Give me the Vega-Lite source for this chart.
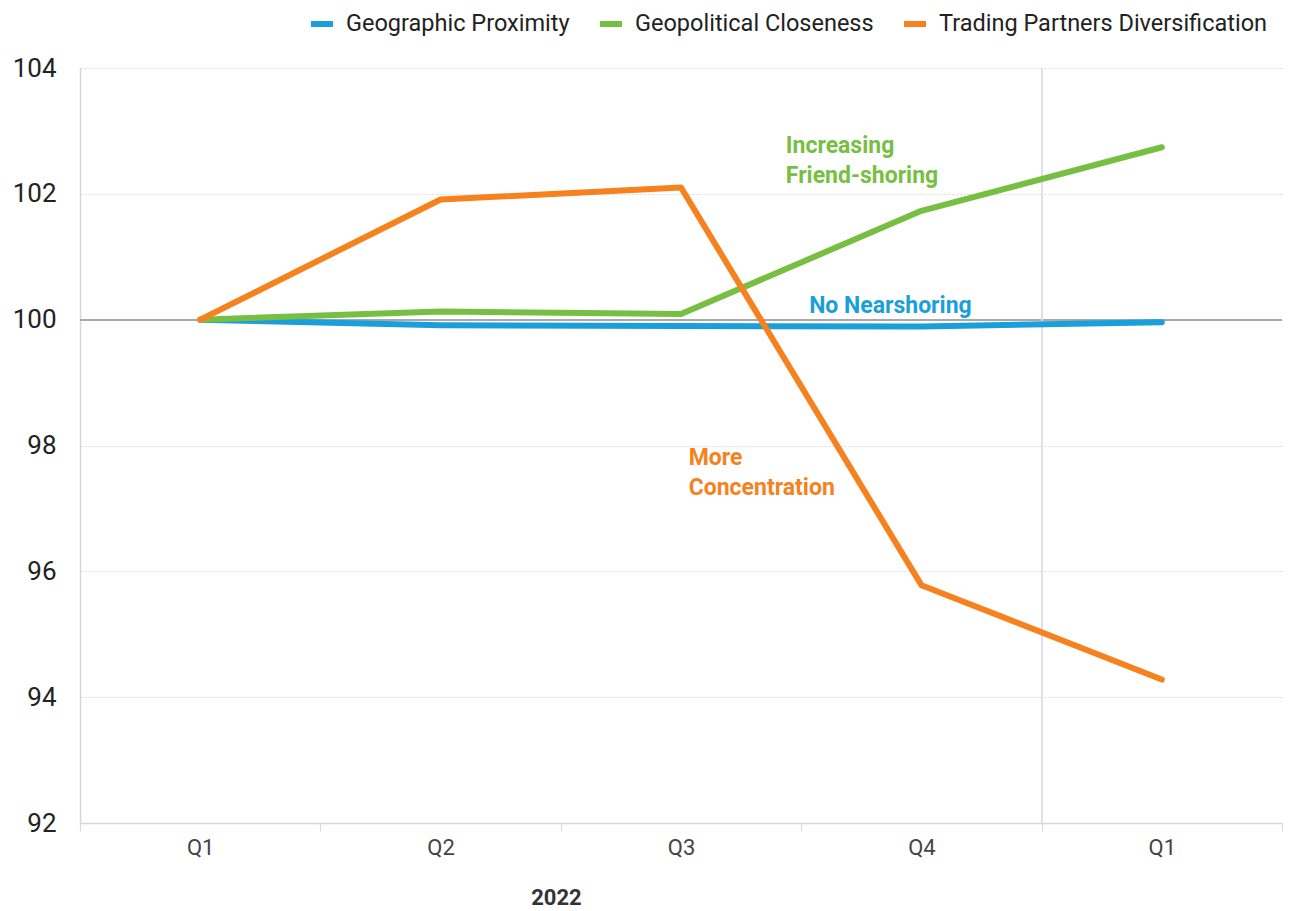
{
  "$schema": "https://vega.github.io/schema/vega-lite/v6.json",
  "width": 1202,
  "height": 755,
  "autosize": {"type": "none"},
  "padding": {"left": 80, "top": 68, "right": 7, "bottom": 88},
  "background": "white",
  "config": {"view": {"stroke": null}, "font": "Roboto"},
  "layer": [
    {
      "data": {"values": [
        {"period": "2022Q1", "series": "Geographic Proximity", "value": 100},
        {"period": "2022Q2", "series": "Geographic Proximity", "value": 99.91},
        {"period": "2022Q3", "series": "Geographic Proximity", "value": 99.9},
        {"period": "2022Q4", "series": "Geographic Proximity", "value": 99.89},
        {"period": "2023Q1", "series": "Geographic Proximity", "value": 99.96},
        {"period": "2022Q1", "series": "Geopolitical Closeness", "value": 100},
        {"period": "2022Q2", "series": "Geopolitical Closeness", "value": 100.13},
        {"period": "2022Q3", "series": "Geopolitical Closeness", "value": 100.09},
        {"period": "2022Q4", "series": "Geopolitical Closeness", "value": 101.73},
        {"period": "2023Q1", "series": "Geopolitical Closeness", "value": 102.74},
        {"period": "2022Q1", "series": "Trading Partners Diversification", "value": 100},
        {"period": "2022Q2", "series": "Trading Partners Diversification", "value": 101.91},
        {"period": "2022Q3", "series": "Trading Partners Diversification", "value": 102.1},
        {"period": "2022Q4", "series": "Trading Partners Diversification", "value": 95.78},
        {"period": "2023Q1", "series": "Trading Partners Diversification", "value": 94.28}
      ]},
      "layer": [
        {
          "mark": {"type": "rule", "color": "#a8a8a8", "strokeWidth": 1.5},
          "encoding": {
            "y": {"datum": 100, "type": "quantitative"}
          }
        },
        {
          "mark": {"type": "rule", "color": "#dde0ea", "strokeWidth": 1.2},
          "encoding": {
            "x": {"datum": "2023Q1", "type": "ordinal", "bandPosition": 0}
          }
        },
        {
          "mark": {"type": "line", "strokeWidth": 6, "strokeCap": "round", "strokeJoin": "round"},
          "encoding": {
            "x": {
              "field": "period", "type": "ordinal",
              "scale": {"domain": ["2022Q1", "2022Q2", "2022Q3", "2022Q4", "2023Q1"], "type": "band", "paddingInner": 0, "paddingOuter": 0},
              "axis": {
                "title": "2022", "titleX": 476, "titleY": 74, "titleAlign": "center", "titleBaseline": "middle",
                "titleFontWeight": "bold", "titleFontSize": 22, "titleColor": "#333333",
                "labelExpr": "datum.value ? substring(datum.value, 4) : ''", "labelAngle": 0, "labelAlign": "center",
                "labelFontSize": 22, "labelColor": "#444444", "labelPadding": 16,
                "tickBand": "extent", "tickSize": 8, "tickColor": "#d5dbe8", "tickWidth": 1.2,
                "domainColor": "#d6d6d6", "domainWidth": 1.5, "grid": false
              }
            },
            "y": {
              "field": "value", "type": "quantitative",
              "scale": {"domain": [92, 104], "nice": false, "zero": false},
              "axis": {
                "title": null, "values": [92, 94, 96, 98, 100, 102, 104], "format": "d",
                "grid": true, "gridDash": [2, 2], "gridColor": "#d8d8d8", "gridWidth": 1,
                "ticks": false, "labelFontSize": 26, "labelColor": "#222222", "labelPadding": 24,
                "domainColor": "#d6d6d6", "domainWidth": 1.5
              }
            },
            "color": {
              "field": "series", "type": "nominal",
              "scale": {"domain": ["Geographic Proximity", "Geopolitical Closeness", "Trading Partners Diversification"], "range": ["#1a9fdb", "#77bf43", "#f5821f"]},
              "legend": {
                "title": null, "orient": "none", "legendX": 228, "legendY": -58, "direction": "horizontal",
                "labelFontSize": 23.5, "labelColor": "#222222", "labelLimit": 500, "symbolType": "stroke", "symbolStrokeWidth": 6, "symbolSize": 484,
                "labelOffset": 10, "columnPadding": 18
              }
            }
          }
        }
      ]
    },
    {
      "data": {"values": [
        {"period": "2022Q3", "value": 102.65, "label": "Increasing"},
        {"period": "2022Q3", "value": 102.17, "label": "Friend-shoring"}
      ]},
      "mark": {"type": "text", "align": "left", "baseline": "alphabetic", "fontSize": 23, "fontWeight": "bold", "color": "#77bf43"},
      "encoding": {
        "x": {"field": "period", "type": "ordinal", "bandPosition": 0.936},
        "y": {"field": "value", "type": "quantitative"},
        "text": {"field": "label"}
      }
    },
    {
      "data": {"values": [
        {"period": "2022Q4", "value": 100.11, "label": "No Nearshoring"}
      ]},
      "mark": {"type": "text", "align": "left", "baseline": "alphabetic", "fontSize": 23, "fontWeight": "bold", "color": "#1a9fdb"},
      "encoding": {
        "x": {"field": "period", "type": "ordinal", "bandPosition": 0.033},
        "y": {"field": "value", "type": "quantitative"},
        "text": {"field": "label"}
      }
    },
    {
      "data": {"values": [
        {"period": "2022Q3", "value": 97.69, "label": "More"},
        {"period": "2022Q3", "value": 97.21, "label": "Concentration"}
      ]},
      "mark": {"type": "text", "align": "left", "baseline": "alphabetic", "fontSize": 23, "fontWeight": "bold", "color": "#f5821f"},
      "encoding": {
        "x": {"field": "period", "type": "ordinal", "bandPosition": 0.532},
        "y": {"field": "value", "type": "quantitative"},
        "text": {"field": "label"}
      }
    }
  ]
}
